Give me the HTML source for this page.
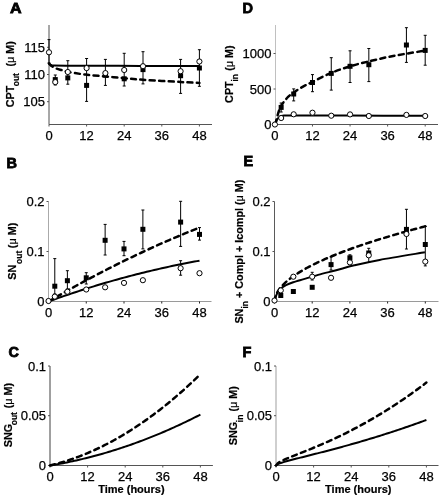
<!DOCTYPE html>
<html><head><meta charset="utf-8"><style>
html,body{margin:0;padding:0;background:#fff;}
body{width:442px;height:498px;overflow:hidden;}
svg{display:block;filter:grayscale(1);}
text{font-family:"Liberation Sans", sans-serif;}
.tk{font-size:13px;fill:#000;stroke:#000;stroke-width:0.25;}
.pl{font-size:14.5px;font-weight:bold;fill:#000;stroke:#000;stroke-width:0.8;}
.yl{font-size:11px;font-weight:bold;fill:#000;stroke:#000;stroke-width:0.2;}
.sub{font-size:8.5px;}
.mu{font-weight:normal;}
.tl{font-size:11px;font-weight:bold;fill:#000;stroke:#000;stroke-width:0.2;}
.sol{fill:none;stroke:#000;stroke-width:2;}
.dsh{fill:none;stroke:#000;stroke-width:2.5;stroke-dasharray:5 4.4;stroke-linecap:round;}
.eb{stroke:#000;stroke-width:1;}
</style></head>
<body>
<svg width="442" height="498" viewBox="0 0 442 498">
<rect width="442" height="498" fill="#fff"/>
<line x1="49.0" y1="25" x2="49.0" y2="124.5" stroke="#515151" stroke-width="1"/>
<line x1="49.0" y1="124.5" x2="212" y2="124.5" stroke="#555555" stroke-width="1"/>
<line x1="47.0" y1="47.3" x2="49.0" y2="47.3" stroke="#555555" stroke-width="1"/>
<text x="45.0" y="51.90" text-anchor="end" class="tk">115</text>
<line x1="47.0" y1="74.5" x2="49.0" y2="74.5" stroke="#555555" stroke-width="1"/>
<text x="45.0" y="79.10" text-anchor="end" class="tk">110</text>
<line x1="47.0" y1="101.7" x2="49.0" y2="101.7" stroke="#555555" stroke-width="1"/>
<text x="45.0" y="106.30" text-anchor="end" class="tk">105</text>
<line x1="49.00" y1="124.5" x2="49.00" y2="126.5" stroke="#555555" stroke-width="1"/>
<text x="49.00" y="140.0" text-anchor="middle" class="tk">0</text>
<line x1="86.60" y1="124.5" x2="86.60" y2="126.5" stroke="#555555" stroke-width="1"/>
<text x="86.60" y="140.0" text-anchor="middle" class="tk">12</text>
<line x1="124.20" y1="124.5" x2="124.20" y2="126.5" stroke="#555555" stroke-width="1"/>
<text x="124.20" y="140.0" text-anchor="middle" class="tk">24</text>
<line x1="161.80" y1="124.5" x2="161.80" y2="126.5" stroke="#555555" stroke-width="1"/>
<text x="161.80" y="140.0" text-anchor="middle" class="tk">36</text>
<line x1="199.40" y1="124.5" x2="199.40" y2="126.5" stroke="#555555" stroke-width="1"/>
<text x="199.40" y="140.0" text-anchor="middle" class="tk">48</text>
<line x1="275.5" y1="25" x2="275.5" y2="124.5" stroke="#c0c0c0" stroke-width="1"/>
<line x1="275.5" y1="124.5" x2="438" y2="124.5" stroke="#555555" stroke-width="1"/>
<line x1="273.5" y1="53.5" x2="275.5" y2="53.5" stroke="#555555" stroke-width="1"/>
<text x="271.5" y="58.10" text-anchor="end" class="tk">1000</text>
<line x1="273.5" y1="89" x2="275.5" y2="89" stroke="#555555" stroke-width="1"/>
<text x="271.5" y="93.60" text-anchor="end" class="tk">500</text>
<line x1="273.5" y1="124.5" x2="275.5" y2="124.5" stroke="#555555" stroke-width="1"/>
<text x="271.5" y="129.10" text-anchor="end" class="tk">0</text>
<line x1="274.90" y1="124.5" x2="274.90" y2="126.5" stroke="#555555" stroke-width="1"/>
<text x="274.90" y="140.0" text-anchor="middle" class="tk">0</text>
<line x1="312.47" y1="124.5" x2="312.47" y2="126.5" stroke="#555555" stroke-width="1"/>
<text x="312.47" y="140.0" text-anchor="middle" class="tk">12</text>
<line x1="350.05" y1="124.5" x2="350.05" y2="126.5" stroke="#555555" stroke-width="1"/>
<text x="350.05" y="140.0" text-anchor="middle" class="tk">24</text>
<line x1="387.62" y1="124.5" x2="387.62" y2="126.5" stroke="#555555" stroke-width="1"/>
<text x="387.62" y="140.0" text-anchor="middle" class="tk">36</text>
<line x1="425.20" y1="124.5" x2="425.20" y2="126.5" stroke="#555555" stroke-width="1"/>
<text x="425.20" y="140.0" text-anchor="middle" class="tk">48</text>
<line x1="48.5" y1="201.5" x2="48.5" y2="301.5" stroke="#aaaaaa" stroke-width="1"/>
<line x1="48.5" y1="301.5" x2="211.5" y2="301.5" stroke="#9a9a9a" stroke-width="1"/>
<line x1="46.5" y1="201.5" x2="48.5" y2="201.5" stroke="#555555" stroke-width="1"/>
<text x="44.5" y="206.10" text-anchor="end" class="tk">0.2</text>
<line x1="46.5" y1="251.5" x2="48.5" y2="251.5" stroke="#555555" stroke-width="1"/>
<text x="44.5" y="256.10" text-anchor="end" class="tk">0.1</text>
<line x1="46.5" y1="301.5" x2="48.5" y2="301.5" stroke="#555555" stroke-width="1"/>
<text x="44.5" y="306.10" text-anchor="end" class="tk">0</text>
<line x1="48.50" y1="301.5" x2="48.50" y2="303.5" stroke="#222" stroke-width="1"/>
<text x="48.50" y="316.8" text-anchor="middle" class="tk">0</text>
<line x1="86.25" y1="301.5" x2="86.25" y2="303.5" stroke="#222" stroke-width="1"/>
<text x="86.25" y="316.8" text-anchor="middle" class="tk">12</text>
<line x1="124.00" y1="301.5" x2="124.00" y2="303.5" stroke="#222" stroke-width="1"/>
<text x="124.00" y="316.8" text-anchor="middle" class="tk">24</text>
<line x1="161.75" y1="301.5" x2="161.75" y2="303.5" stroke="#222" stroke-width="1"/>
<text x="161.75" y="316.8" text-anchor="middle" class="tk">36</text>
<line x1="199.50" y1="301.5" x2="199.50" y2="303.5" stroke="#222" stroke-width="1"/>
<text x="199.50" y="316.8" text-anchor="middle" class="tk">48</text>
<line x1="274.5" y1="201.5" x2="274.5" y2="301.5" stroke="#5a5a5a" stroke-width="1"/>
<line x1="274.5" y1="301.5" x2="438.5" y2="301.5" stroke="#9a9a9a" stroke-width="1"/>
<line x1="272.5" y1="201.5" x2="274.5" y2="201.5" stroke="#555555" stroke-width="1"/>
<text x="270.5" y="206.10" text-anchor="end" class="tk">0.2</text>
<line x1="272.5" y1="251.5" x2="274.5" y2="251.5" stroke="#555555" stroke-width="1"/>
<text x="270.5" y="256.10" text-anchor="end" class="tk">0.1</text>
<line x1="272.5" y1="301.5" x2="274.5" y2="301.5" stroke="#555555" stroke-width="1"/>
<text x="270.5" y="306.10" text-anchor="end" class="tk">0</text>
<line x1="274.50" y1="301.5" x2="274.50" y2="303.5" stroke="#222" stroke-width="1"/>
<text x="274.50" y="316.8" text-anchor="middle" class="tk">0</text>
<line x1="312.20" y1="301.5" x2="312.20" y2="303.5" stroke="#222" stroke-width="1"/>
<text x="312.20" y="316.8" text-anchor="middle" class="tk">12</text>
<line x1="349.90" y1="301.5" x2="349.90" y2="303.5" stroke="#222" stroke-width="1"/>
<text x="349.90" y="316.8" text-anchor="middle" class="tk">24</text>
<line x1="387.60" y1="301.5" x2="387.60" y2="303.5" stroke="#222" stroke-width="1"/>
<text x="387.60" y="316.8" text-anchor="middle" class="tk">36</text>
<line x1="425.30" y1="301.5" x2="425.30" y2="303.5" stroke="#222" stroke-width="1"/>
<text x="425.30" y="316.8" text-anchor="middle" class="tk">48</text>
<line x1="50.0" y1="366" x2="50.0" y2="465.5" stroke="#414141" stroke-width="1"/>
<line x1="50.0" y1="465.5" x2="212.9" y2="465.5" stroke="#555555" stroke-width="1"/>
<line x1="48.0" y1="366" x2="50.0" y2="366" stroke="#555555" stroke-width="1"/>
<text x="46.0" y="370.60" text-anchor="end" class="tk">0.1</text>
<line x1="48.0" y1="415.7" x2="50.0" y2="415.7" stroke="#555555" stroke-width="1"/>
<text x="46.0" y="420.30" text-anchor="end" class="tk">0.05</text>
<line x1="48.0" y1="465.5" x2="50.0" y2="465.5" stroke="#555555" stroke-width="1"/>
<text x="46.0" y="470.10" text-anchor="end" class="tk">0</text>
<line x1="50.00" y1="465.5" x2="50.00" y2="467.5" stroke="#555555" stroke-width="1"/>
<text x="50.00" y="481.0" text-anchor="middle" class="tk">0</text>
<line x1="87.60" y1="465.5" x2="87.60" y2="467.5" stroke="#555555" stroke-width="1"/>
<text x="87.60" y="481.0" text-anchor="middle" class="tk">12</text>
<line x1="125.20" y1="465.5" x2="125.20" y2="467.5" stroke="#555555" stroke-width="1"/>
<text x="125.20" y="481.0" text-anchor="middle" class="tk">24</text>
<line x1="162.80" y1="465.5" x2="162.80" y2="467.5" stroke="#555555" stroke-width="1"/>
<text x="162.80" y="481.0" text-anchor="middle" class="tk">36</text>
<line x1="200.40" y1="465.5" x2="200.40" y2="467.5" stroke="#555555" stroke-width="1"/>
<text x="200.40" y="481.0" text-anchor="middle" class="tk">48</text>
<line x1="276.0" y1="366" x2="276.0" y2="465.5" stroke="#9f9f9f" stroke-width="1"/>
<line x1="276.0" y1="465.5" x2="438.5" y2="465.5" stroke="#555555" stroke-width="1"/>
<line x1="274.0" y1="366" x2="276.0" y2="366" stroke="#555555" stroke-width="1"/>
<text x="272.0" y="370.60" text-anchor="end" class="tk">0.1</text>
<line x1="274.0" y1="415.7" x2="276.0" y2="415.7" stroke="#555555" stroke-width="1"/>
<text x="272.0" y="420.30" text-anchor="end" class="tk">0.05</text>
<line x1="274.0" y1="465.5" x2="276.0" y2="465.5" stroke="#555555" stroke-width="1"/>
<text x="272.0" y="470.10" text-anchor="end" class="tk">0</text>
<line x1="276.00" y1="465.5" x2="276.00" y2="467.5" stroke="#555555" stroke-width="1"/>
<text x="276.00" y="481.0" text-anchor="middle" class="tk">0</text>
<line x1="313.60" y1="465.5" x2="313.60" y2="467.5" stroke="#555555" stroke-width="1"/>
<text x="313.60" y="481.0" text-anchor="middle" class="tk">12</text>
<line x1="351.20" y1="465.5" x2="351.20" y2="467.5" stroke="#555555" stroke-width="1"/>
<text x="351.20" y="481.0" text-anchor="middle" class="tk">24</text>
<line x1="388.80" y1="465.5" x2="388.80" y2="467.5" stroke="#555555" stroke-width="1"/>
<text x="388.80" y="481.0" text-anchor="middle" class="tk">36</text>
<line x1="426.40" y1="465.5" x2="426.40" y2="467.5" stroke="#555555" stroke-width="1"/>
<text x="426.40" y="481.0" text-anchor="middle" class="tk">48</text>
<text x="10.1" y="13.2" class="pl" textLength="11.6" lengthAdjust="spacingAndGlyphs">A</text>
<text x="242.6" y="13.2" class="pl">D</text>
<text x="6.4" y="167.6" class="pl">B</text>
<text x="243.5" y="166.4" class="pl">E</text>
<text x="8.5" y="357.2" class="pl">C</text>
<text x="242.6" y="356.8" class="pl">F</text>
<text transform="translate(14.1,107.3) rotate(-90)" class="yl" style="font-size:10.8px">CPT</text>
<text transform="translate(18.8,86.3) rotate(-90)" class="yl" style="font-size:8.5px">out</text>
<text transform="translate(14.0,66.5) rotate(-90)" class="yl" style="font-size:10.8px">(<tspan class="mu">&#956;</tspan> M)</text>
<text transform="translate(232.6,102.9) rotate(-90)" class="yl" style="font-size:10.8px">CPT</text>
<text transform="translate(238,81.6) rotate(-90)" class="yl" style="font-size:8.5px">in</text>
<text transform="translate(232.6,70.8) rotate(-90)" class="yl" style="font-size:10.8px">(<tspan class="mu">&#956;</tspan> M)</text>
<text transform="translate(16.4,279.8) rotate(-90)" class="yl" style="font-size:10.8px">SN</text>
<text transform="translate(22.1,264.0) rotate(-90)" class="yl" style="font-size:8.5px">out</text>
<text transform="translate(16.4,248.2) rotate(-90)" class="yl" style="font-size:10.8px">(<tspan class="mu">&#956;</tspan> M)</text>
<text transform="translate(243.1,323.6) rotate(-90)" class="yl" style="font-size:10.8px">SN</text>
<text transform="translate(248,308.5) rotate(-90)" class="yl" style="font-size:8.5px">in</text>
<text transform="translate(243.1,298.0) rotate(-90)" class="yl" style="font-size:10.8px">+ Compl + Icompl (<tspan class="mu">&#956;</tspan> M)</text>
<text transform="translate(11.8,447.3) rotate(-90)" class="yl" style="font-size:10.8px">SNG</text>
<text transform="translate(17.2,425.3) rotate(-90)" class="yl" style="font-size:8.5px">out</text>
<text transform="translate(11.8,408.3) rotate(-90)" class="yl" style="font-size:10.8px">(<tspan class="mu">&#956;</tspan> M)</text>
<text transform="translate(237.3,445.3) rotate(-90)" class="yl" style="font-size:10.8px">SNG</text>
<text transform="translate(242.7,422.2) rotate(-90)" class="yl" style="font-size:8.5px">in</text>
<text transform="translate(237.3,411.5) rotate(-90)" class="yl" style="font-size:10.8px">(<tspan class="mu">&#956;</tspan> M)</text>
<text x="131.4" y="493" text-anchor="middle" class="tl">Time (hours)</text>
<text x="358.3" y="493" text-anchor="middle" class="tl">Time (hours)</text>
<line x1="49.0" y1="39.6" x2="49.0" y2="63" class="eb"/>
<line x1="47.5" y1="39.6" x2="50.5" y2="39.6" class="eb"/>
<line x1="47.5" y1="63" x2="50.5" y2="63" class="eb"/>
<line x1="55.266666666666666" y1="75" x2="55.266666666666666" y2="85" class="eb"/>
<line x1="53.766666666666666" y1="75" x2="56.766666666666666" y2="75" class="eb"/>
<line x1="53.766666666666666" y1="85" x2="56.766666666666666" y2="85" class="eb"/>
<line x1="67.8" y1="60.7" x2="67.8" y2="84.2" class="eb"/>
<line x1="66.3" y1="60.7" x2="69.3" y2="60.7" class="eb"/>
<line x1="66.3" y1="84.2" x2="69.3" y2="84.2" class="eb"/>
<line x1="86.6" y1="58.5" x2="86.6" y2="101.4" class="eb"/>
<line x1="85.1" y1="58.5" x2="88.1" y2="58.5" class="eb"/>
<line x1="85.1" y1="101.4" x2="88.1" y2="101.4" class="eb"/>
<line x1="105.4" y1="59.4" x2="105.4" y2="85.4" class="eb"/>
<line x1="103.9" y1="59.4" x2="106.9" y2="59.4" class="eb"/>
<line x1="103.9" y1="85.4" x2="106.9" y2="85.4" class="eb"/>
<line x1="124.2" y1="53.3" x2="124.2" y2="86" class="eb"/>
<line x1="122.7" y1="53.3" x2="125.7" y2="53.3" class="eb"/>
<line x1="122.7" y1="86" x2="125.7" y2="86" class="eb"/>
<line x1="143.0" y1="51.7" x2="143.0" y2="83.9" class="eb"/>
<line x1="141.5" y1="51.7" x2="144.5" y2="51.7" class="eb"/>
<line x1="141.5" y1="83.9" x2="144.5" y2="83.9" class="eb"/>
<line x1="180.6" y1="59.4" x2="180.6" y2="93.4" class="eb"/>
<line x1="179.1" y1="59.4" x2="182.1" y2="59.4" class="eb"/>
<line x1="179.1" y1="93.4" x2="182.1" y2="93.4" class="eb"/>
<line x1="199.4" y1="49.7" x2="199.4" y2="86.3" class="eb"/>
<line x1="197.9" y1="49.7" x2="200.9" y2="49.7" class="eb"/>
<line x1="197.9" y1="86.3" x2="200.9" y2="86.3" class="eb"/>
<path d="M49.00,63.60 C49.33,63.83 50.17,64.68 51.00,65.00 C51.83,65.32 49.17,65.38 54.00,65.50 C58.83,65.62 65.67,65.63 80.00,65.70 C94.33,65.77 120.10,65.83 140.00,65.90 C159.90,65.97 189.50,66.07 199.40,66.10" class="sol"/>
<path d="M49.00,63.50 C49.50,63.95 50.75,65.35 52.00,66.20 C53.25,67.05 54.83,67.93 56.50,68.60 C58.17,69.27 60.08,69.65 62.00,70.20 C63.92,70.75 64.10,71.17 68.00,71.90 C71.90,72.63 79.30,73.85 85.40,74.60 C91.50,75.35 98.13,75.80 104.60,76.40 C111.07,77.00 117.77,77.63 124.20,78.20 C130.63,78.77 133.80,79.17 143.20,79.80 C152.60,80.43 171.23,81.48 180.60,82.00 C189.97,82.52 196.27,82.75 199.40,82.90" class="dsh"/>
<rect x="52.77" y="77.10" width="5.0" height="5.0" fill="#000"/>
<rect x="65.30" y="75.40" width="5.0" height="5.0" fill="#000"/>
<rect x="84.10" y="82.90" width="5.0" height="5.0" fill="#000"/>
<rect x="102.90" y="72.50" width="5.0" height="5.0" fill="#000"/>
<rect x="121.70" y="76.30" width="5.0" height="5.0" fill="#000"/>
<rect x="140.50" y="67.10" width="5.0" height="5.0" fill="#000"/>
<rect x="178.10" y="73.20" width="5.0" height="5.0" fill="#000"/>
<rect x="196.90" y="65.50" width="5.0" height="5.0" fill="#000"/>
<circle cx="49.00" cy="52.30" r="2.6" fill="#fff" stroke="#000" stroke-width="1"/>
<circle cx="55.27" cy="82.10" r="2.6" fill="#fff" stroke="#000" stroke-width="1"/>
<circle cx="67.80" cy="72.00" r="2.6" fill="#fff" stroke="#000" stroke-width="1"/>
<circle cx="86.60" cy="68.10" r="2.6" fill="#fff" stroke="#000" stroke-width="1"/>
<circle cx="105.40" cy="73.10" r="2.6" fill="#fff" stroke="#000" stroke-width="1"/>
<circle cx="124.20" cy="70.00" r="2.6" fill="#fff" stroke="#000" stroke-width="1"/>
<circle cx="143.00" cy="66.20" r="2.6" fill="#fff" stroke="#000" stroke-width="1"/>
<circle cx="180.60" cy="71.20" r="2.6" fill="#fff" stroke="#000" stroke-width="1"/>
<circle cx="199.40" cy="61.50" r="2.6" fill="#fff" stroke="#000" stroke-width="1"/>
<line x1="281.16249999999997" y1="103" x2="281.16249999999997" y2="112" class="eb"/>
<line x1="279.66249999999997" y1="103" x2="282.66249999999997" y2="103" class="eb"/>
<line x1="279.66249999999997" y1="112" x2="282.66249999999997" y2="112" class="eb"/>
<line x1="293.6875" y1="88.9" x2="293.6875" y2="100.9" class="eb"/>
<line x1="292.1875" y1="88.9" x2="295.1875" y2="88.9" class="eb"/>
<line x1="292.1875" y1="100.9" x2="295.1875" y2="100.9" class="eb"/>
<line x1="312.47499999999997" y1="74.6" x2="312.47499999999997" y2="91.7" class="eb"/>
<line x1="310.97499999999997" y1="74.6" x2="313.97499999999997" y2="74.6" class="eb"/>
<line x1="310.97499999999997" y1="91.7" x2="313.97499999999997" y2="91.7" class="eb"/>
<line x1="331.2625" y1="57.7" x2="331.2625" y2="90.1" class="eb"/>
<line x1="329.7625" y1="57.7" x2="332.7625" y2="57.7" class="eb"/>
<line x1="329.7625" y1="90.1" x2="332.7625" y2="90.1" class="eb"/>
<line x1="350.04999999999995" y1="50.8" x2="350.04999999999995" y2="82.5" class="eb"/>
<line x1="348.54999999999995" y1="50.8" x2="351.54999999999995" y2="50.8" class="eb"/>
<line x1="348.54999999999995" y1="82.5" x2="351.54999999999995" y2="82.5" class="eb"/>
<line x1="368.8375" y1="48.5" x2="368.8375" y2="81.6" class="eb"/>
<line x1="367.3375" y1="48.5" x2="370.3375" y2="48.5" class="eb"/>
<line x1="367.3375" y1="81.6" x2="370.3375" y2="81.6" class="eb"/>
<line x1="406.4125" y1="27.7" x2="406.4125" y2="62.4" class="eb"/>
<line x1="404.9125" y1="27.7" x2="407.9125" y2="27.7" class="eb"/>
<line x1="404.9125" y1="62.4" x2="407.9125" y2="62.4" class="eb"/>
<line x1="425.2" y1="35.3" x2="425.2" y2="65.2" class="eb"/>
<line x1="423.7" y1="35.3" x2="426.7" y2="35.3" class="eb"/>
<line x1="423.7" y1="65.2" x2="426.7" y2="65.2" class="eb"/>
<path d="M275.30,124.50 C275.58,123.67 276.30,120.75 277.00,119.50 C277.70,118.25 278.35,117.65 279.50,117.00 C280.65,116.35 280.48,115.87 283.90,115.60 C287.32,115.33 288.98,115.40 300.00,115.40 C311.02,115.40 329.17,115.53 350.00,115.60 C370.83,115.67 412.50,115.77 425.00,115.80" class="sol"/>
<path d="M275.30,124.50 C275.75,122.75 277.05,117.05 278.00,114.00 C278.95,110.95 279.50,108.87 281.00,106.20 C282.50,103.53 284.87,100.30 287.00,98.00 C289.13,95.70 291.13,94.30 293.80,92.40 C296.47,90.50 299.92,88.33 303.00,86.60 C306.08,84.87 307.57,84.30 312.30,82.00 C317.03,79.70 325.05,75.43 331.40,72.80 C337.75,70.17 344.08,68.12 350.40,66.20 C356.72,64.28 363.03,62.83 369.30,61.30 C375.57,59.77 381.77,58.28 388.00,57.00 C394.23,55.72 400.47,54.67 406.70,53.60 C412.93,52.53 422.28,51.10 425.40,50.60" class="dsh"/>
<rect x="278.66" y="104.90" width="5.0" height="5.0" fill="#000"/>
<rect x="291.19" y="91.50" width="5.0" height="5.0" fill="#000"/>
<rect x="309.97" y="80.00" width="5.0" height="5.0" fill="#000"/>
<rect x="328.76" y="70.90" width="5.0" height="5.0" fill="#000"/>
<rect x="347.55" y="63.80" width="5.0" height="5.0" fill="#000"/>
<rect x="366.34" y="62.20" width="5.0" height="5.0" fill="#000"/>
<rect x="403.91" y="42.50" width="5.0" height="5.0" fill="#000"/>
<rect x="422.70" y="47.90" width="5.0" height="5.0" fill="#000"/>
<circle cx="274.90" cy="124.50" r="2.6" fill="#fff" stroke="#000" stroke-width="1"/>
<circle cx="281.16" cy="118.00" r="2.6" fill="#fff" stroke="#000" stroke-width="1"/>
<circle cx="293.69" cy="114.30" r="2.6" fill="#fff" stroke="#000" stroke-width="1"/>
<circle cx="312.47" cy="112.70" r="2.6" fill="#fff" stroke="#000" stroke-width="1"/>
<circle cx="331.26" cy="115.70" r="2.6" fill="#fff" stroke="#000" stroke-width="1"/>
<circle cx="350.05" cy="114.40" r="2.6" fill="#fff" stroke="#000" stroke-width="1"/>
<circle cx="368.84" cy="116.00" r="2.6" fill="#fff" stroke="#000" stroke-width="1"/>
<circle cx="406.41" cy="114.90" r="2.6" fill="#fff" stroke="#000" stroke-width="1"/>
<circle cx="425.20" cy="116.00" r="2.6" fill="#fff" stroke="#000" stroke-width="1"/>
<line x1="54.791666666666664" y1="258.6" x2="54.791666666666664" y2="294" class="eb"/>
<line x1="53.291666666666664" y1="258.6" x2="56.291666666666664" y2="258.6" class="eb"/>
<line x1="53.291666666666664" y1="294" x2="56.291666666666664" y2="294" class="eb"/>
<line x1="67.375" y1="270.7" x2="67.375" y2="289" class="eb"/>
<line x1="65.875" y1="270.7" x2="68.875" y2="270.7" class="eb"/>
<line x1="65.875" y1="289" x2="68.875" y2="289" class="eb"/>
<line x1="86.25" y1="272.7" x2="86.25" y2="284" class="eb"/>
<line x1="84.75" y1="272.7" x2="87.75" y2="272.7" class="eb"/>
<line x1="84.75" y1="284" x2="87.75" y2="284" class="eb"/>
<line x1="105.125" y1="224.4" x2="105.125" y2="255" class="eb"/>
<line x1="103.625" y1="224.4" x2="106.625" y2="224.4" class="eb"/>
<line x1="103.625" y1="255" x2="106.625" y2="255" class="eb"/>
<line x1="124.0" y1="241.4" x2="124.0" y2="255.7" class="eb"/>
<line x1="122.5" y1="241.4" x2="125.5" y2="241.4" class="eb"/>
<line x1="122.5" y1="255.7" x2="125.5" y2="255.7" class="eb"/>
<line x1="142.875" y1="210" x2="142.875" y2="248.9" class="eb"/>
<line x1="141.375" y1="210" x2="144.375" y2="210" class="eb"/>
<line x1="141.375" y1="248.9" x2="144.375" y2="248.9" class="eb"/>
<line x1="180.625" y1="201.3" x2="180.625" y2="246.4" class="eb"/>
<line x1="179.125" y1="201.3" x2="182.125" y2="201.3" class="eb"/>
<line x1="179.125" y1="246.4" x2="182.125" y2="246.4" class="eb"/>
<line x1="199.5" y1="227.6" x2="199.5" y2="240.1" class="eb"/>
<line x1="198.0" y1="227.6" x2="201.0" y2="227.6" class="eb"/>
<line x1="198.0" y1="240.1" x2="201.0" y2="240.1" class="eb"/>
<line x1="180.625" y1="260.7" x2="180.625" y2="275.2" class="eb"/>
<line x1="179.125" y1="260.7" x2="182.125" y2="260.7" class="eb"/>
<line x1="179.125" y1="275.2" x2="182.125" y2="275.2" class="eb"/>
<path d="M48.50,301.50 L51.02,300.59 L53.53,299.69 L56.05,298.80 L58.57,297.92 L61.08,297.04 L63.60,296.17 L66.12,295.31 L68.63,294.45 L71.15,293.61 L73.67,292.77 L76.18,291.94 L78.70,291.12 L81.22,290.30 L83.73,289.49 L86.25,288.69 L88.77,287.90 L91.28,287.12 L93.80,286.34 L96.32,285.57 L98.83,284.81 L101.35,284.06 L103.87,283.31 L106.38,282.57 L108.90,281.84 L111.42,281.12 L113.93,280.41 L116.45,279.70 L118.97,279.00 L121.48,278.31 L124.00,277.62 L126.52,276.95 L129.03,276.28 L131.55,275.62 L134.07,274.96 L136.58,274.32 L139.10,273.68 L141.62,273.05 L144.13,272.43 L146.65,271.81 L149.17,271.21 L151.68,270.61 L154.20,270.02 L156.72,269.43 L159.23,268.86 L161.75,268.29 L164.27,267.73 L166.78,267.18 L169.30,266.63 L171.82,266.09 L174.33,265.56 L176.85,265.04 L179.37,264.53 L181.88,264.02 L184.40,263.52 L186.92,263.03 L189.43,262.55 L191.95,262.07 L194.47,261.60 L196.98,261.14 L199.50,260.69" class="sol"/>
<path d="M48.50,301.50 L51.02,300.03 L53.53,298.57 L56.05,297.12 L58.57,295.67 L61.08,294.24 L63.60,292.81 L66.12,291.39 L68.63,289.97 L71.15,288.57 L73.67,287.17 L76.18,285.78 L78.70,284.40 L81.22,283.03 L83.73,281.67 L86.25,280.31 L88.77,278.96 L91.28,277.62 L93.80,276.29 L96.32,274.97 L98.83,273.65 L101.35,272.34 L103.87,271.04 L106.38,269.75 L108.90,268.46 L111.42,267.19 L113.93,265.92 L116.45,264.66 L118.97,263.41 L121.48,262.16 L124.00,260.93 L126.52,259.70 L129.03,258.48 L131.55,257.27 L134.07,256.06 L136.58,254.87 L139.10,253.68 L141.62,252.50 L144.13,251.33 L146.65,250.16 L149.17,249.01 L151.68,247.86 L154.20,246.72 L156.72,245.59 L159.23,244.47 L161.75,243.35 L164.27,242.24 L166.78,241.14 L169.30,240.05 L171.82,238.97 L174.33,237.89 L176.85,236.82 L179.37,235.77 L181.88,234.71 L184.40,233.67 L186.92,232.63 L189.43,231.61 L191.95,230.59 L194.47,229.58 L196.98,228.57 L199.50,227.58" class="dsh"/>
<rect x="52.29" y="283.70" width="5.0" height="5.0" fill="#000"/>
<rect x="64.88" y="278.20" width="5.0" height="5.0" fill="#000"/>
<rect x="83.75" y="275.30" width="5.0" height="5.0" fill="#000"/>
<rect x="102.62" y="237.80" width="5.0" height="5.0" fill="#000"/>
<rect x="121.50" y="246.40" width="5.0" height="5.0" fill="#000"/>
<rect x="140.38" y="226.80" width="5.0" height="5.0" fill="#000"/>
<rect x="178.12" y="219.60" width="5.0" height="5.0" fill="#000"/>
<rect x="197.00" y="231.90" width="5.0" height="5.0" fill="#000"/>
<circle cx="48.50" cy="301.00" r="2.6" fill="#fff" stroke="#000" stroke-width="1"/>
<circle cx="54.79" cy="296.60" r="2.6" fill="#fff" stroke="#000" stroke-width="1"/>
<circle cx="67.38" cy="291.70" r="2.6" fill="#fff" stroke="#000" stroke-width="1"/>
<circle cx="86.25" cy="289.50" r="2.6" fill="#fff" stroke="#000" stroke-width="1"/>
<circle cx="105.12" cy="287.30" r="2.6" fill="#fff" stroke="#000" stroke-width="1"/>
<circle cx="124.00" cy="282.90" r="2.6" fill="#fff" stroke="#000" stroke-width="1"/>
<circle cx="142.88" cy="280.20" r="2.6" fill="#fff" stroke="#000" stroke-width="1"/>
<circle cx="180.62" cy="268.20" r="2.6" fill="#fff" stroke="#000" stroke-width="1"/>
<circle cx="199.50" cy="273.20" r="2.6" fill="#fff" stroke="#000" stroke-width="1"/>
<line x1="312.2" y1="272.3" x2="312.2" y2="280" class="eb"/>
<line x1="310.7" y1="272.3" x2="313.7" y2="272.3" class="eb"/>
<line x1="310.7" y1="280" x2="313.7" y2="280" class="eb"/>
<line x1="331.05" y1="256.8" x2="331.05" y2="270" class="eb"/>
<line x1="329.55" y1="256.8" x2="332.55" y2="256.8" class="eb"/>
<line x1="329.55" y1="270" x2="332.55" y2="270" class="eb"/>
<line x1="349.9" y1="254.8" x2="349.9" y2="262" class="eb"/>
<line x1="348.4" y1="254.8" x2="351.4" y2="254.8" class="eb"/>
<line x1="348.4" y1="262" x2="351.4" y2="262" class="eb"/>
<line x1="368.75" y1="248.3" x2="368.75" y2="262.4" class="eb"/>
<line x1="367.25" y1="248.3" x2="370.25" y2="248.3" class="eb"/>
<line x1="367.25" y1="262.4" x2="370.25" y2="262.4" class="eb"/>
<line x1="406.45000000000005" y1="209.3" x2="406.45000000000005" y2="249" class="eb"/>
<line x1="404.95000000000005" y1="209.3" x2="407.95000000000005" y2="209.3" class="eb"/>
<line x1="404.95000000000005" y1="249" x2="407.95000000000005" y2="249" class="eb"/>
<line x1="425.3" y1="226.4" x2="425.3" y2="265.9" class="eb"/>
<line x1="423.8" y1="226.4" x2="426.8" y2="226.4" class="eb"/>
<line x1="423.8" y1="265.9" x2="426.8" y2="265.9" class="eb"/>
<path d="M274.50,301.50 C274.67,300.83 275.00,298.95 275.50,297.50 C276.00,296.05 276.65,294.25 277.50,292.80 C278.35,291.35 279.18,290.07 280.60,288.80 C282.02,287.53 283.90,286.30 286.00,285.20 C288.10,284.10 290.87,283.02 293.20,282.20 C295.53,281.38 295.85,281.52 300.00,280.30 C304.15,279.08 312.07,276.58 318.10,274.90 C324.13,273.22 330.17,271.80 336.20,270.20 C342.23,268.60 347.07,267.02 354.30,265.30 C361.53,263.58 367.83,262.07 379.60,259.90 C391.37,257.73 417.35,253.57 424.90,252.30" class="sol"/>
<path d="M274.50,301.50 L275.76,295.38 L277.01,292.70 L278.27,290.62 L279.53,288.85 L280.78,287.28 L282.04,285.85 L283.30,284.54 L284.55,283.31 L285.81,282.15 L287.07,281.05 L288.32,280.00 L289.58,279.00 L290.84,278.04 L292.09,277.11 L293.35,276.21 L294.61,275.34 L295.86,274.50 L297.12,273.67 L298.38,272.88 L299.63,272.10 L300.89,271.33 L302.15,270.59 L303.40,269.86 L304.66,269.15 L305.92,268.45 L307.17,267.76 L308.43,267.09 L309.69,266.43 L310.94,265.77 L312.20,265.13 L313.46,264.50 L314.71,263.88 L315.97,263.27 L317.23,262.67 L318.48,262.08 L319.74,261.49 L321.00,260.91 L322.25,260.34 L323.51,259.78 L324.77,259.22 L326.02,258.67 L327.28,258.12 L328.54,257.58 L329.79,257.05 L331.05,256.53 L332.31,256.01 L333.56,255.49 L334.82,254.98 L336.08,254.47 L337.33,253.97 L338.59,253.48 L339.85,252.99 L341.10,252.50 L342.36,252.02 L343.62,251.54 L344.87,251.07 L346.13,250.60 L347.39,250.13 L348.64,249.67 L349.90,249.21 L351.16,248.75 L352.41,248.30 L353.67,247.85 L354.93,247.41 L356.18,246.97 L357.44,246.53 L358.70,246.10 L359.95,245.66 L361.21,245.24 L362.47,244.81 L363.72,244.39 L364.98,243.97 L366.24,243.55 L367.49,243.13 L368.75,242.72 L370.01,242.31 L371.26,241.91 L372.52,241.50 L373.78,241.10 L375.03,240.70 L376.29,240.30 L377.55,239.91 L378.80,239.52 L380.06,239.13 L381.32,238.74 L382.57,238.35 L383.83,237.97 L385.09,237.59 L386.34,237.21 L387.60,236.83 L388.86,236.46 L390.11,236.08 L391.37,235.71 L392.63,235.34 L393.88,234.97 L395.14,234.61 L396.40,234.24 L397.65,233.88 L398.91,233.52 L400.17,233.16 L401.42,232.80 L402.68,232.45 L403.94,232.09 L405.19,231.74 L406.45,231.39 L407.71,231.04 L408.96,230.69 L410.22,230.35 L411.48,230.00 L412.73,229.66 L413.99,229.32 L415.25,228.98 L416.50,228.64 L417.76,228.30 L419.02,227.97 L420.27,227.63 L421.53,227.30 L422.79,226.97 L424.04,226.64 L425.30,226.31" class="dsh"/>
<rect x="278.28" y="293.00" width="5.0" height="5.0" fill="#000"/>
<rect x="290.85" y="289.00" width="5.0" height="5.0" fill="#000"/>
<rect x="309.70" y="284.80" width="5.0" height="5.0" fill="#000"/>
<rect x="328.55" y="262.10" width="5.0" height="5.0" fill="#000"/>
<rect x="347.40" y="255.30" width="5.0" height="5.0" fill="#000"/>
<rect x="366.25" y="250.50" width="5.0" height="5.0" fill="#000"/>
<rect x="403.95" y="226.90" width="5.0" height="5.0" fill="#000"/>
<rect x="422.80" y="242.00" width="5.0" height="5.0" fill="#000"/>
<circle cx="274.50" cy="300.50" r="2.6" fill="#fff" stroke="#000" stroke-width="1"/>
<circle cx="280.78" cy="290.40" r="2.6" fill="#fff" stroke="#000" stroke-width="1"/>
<circle cx="293.35" cy="276.70" r="2.6" fill="#fff" stroke="#000" stroke-width="1"/>
<circle cx="312.20" cy="276.70" r="2.6" fill="#fff" stroke="#000" stroke-width="1"/>
<circle cx="331.05" cy="277.80" r="2.6" fill="#fff" stroke="#000" stroke-width="1"/>
<circle cx="349.90" cy="262.40" r="2.6" fill="#fff" stroke="#000" stroke-width="1"/>
<circle cx="368.75" cy="255.30" r="2.6" fill="#fff" stroke="#000" stroke-width="1"/>
<circle cx="406.45" cy="234.00" r="2.6" fill="#fff" stroke="#000" stroke-width="1"/>
<circle cx="425.30" cy="261.60" r="2.6" fill="#fff" stroke="#000" stroke-width="1"/>
<path d="M50.00,465.50 L51.88,465.19 L53.76,464.87 L55.64,464.54 L57.52,464.21 L59.40,463.86 L61.28,463.51 L63.16,463.15 L65.04,462.78 L66.92,462.41 L68.80,462.02 L70.68,461.63 L72.56,461.23 L74.44,460.82 L76.32,460.40 L78.20,459.97 L80.08,459.54 L81.96,459.10 L83.84,458.65 L85.72,458.19 L87.60,457.72 L89.48,457.24 L91.36,456.76 L93.24,456.27 L95.12,455.77 L97.00,455.26 L98.88,454.74 L100.76,454.22 L102.64,453.68 L104.52,453.14 L106.40,452.59 L108.28,452.04 L110.16,451.47 L112.04,450.89 L113.92,450.31 L115.80,449.72 L117.68,449.12 L119.56,448.51 L121.44,447.90 L123.32,447.27 L125.20,446.64 L127.08,446.00 L128.96,445.35 L130.84,444.70 L132.72,444.03 L134.60,443.36 L136.48,442.68 L138.36,441.99 L140.24,441.29 L142.12,440.58 L144.00,439.87 L145.88,439.14 L147.76,438.41 L149.64,437.67 L151.52,436.93 L153.40,436.17 L155.28,435.41 L157.16,434.63 L159.04,433.85 L160.92,433.06 L162.80,432.27 L164.68,431.46 L166.56,430.65 L168.44,429.83 L170.32,429.00 L172.20,428.16 L174.08,427.31 L175.96,426.46 L177.84,425.59 L179.72,424.72 L181.60,423.84 L183.48,422.95 L185.36,422.06 L187.24,421.15 L189.12,420.24 L191.00,419.32 L192.88,418.39 L194.76,417.45 L196.64,416.51 L198.52,415.56 L200.40,414.59" class="sol"/>
<path d="M50.00,465.50 L51.88,465.04 L53.76,464.57 L55.64,464.08 L57.52,463.57 L59.40,463.04 L61.28,462.50 L63.16,461.94 L65.04,461.36 L66.92,460.76 L68.80,460.15 L70.68,459.52 L72.56,458.87 L74.44,458.21 L76.32,457.53 L78.20,456.83 L80.08,456.11 L81.96,455.38 L83.84,454.62 L85.72,453.86 L87.60,453.07 L89.48,452.27 L91.36,451.45 L93.24,450.61 L95.12,449.75 L97.00,448.88 L98.88,447.99 L100.76,447.09 L102.64,446.16 L104.52,445.22 L106.40,444.26 L108.28,443.29 L110.16,442.29 L112.04,441.28 L113.92,440.25 L115.80,439.21 L117.68,438.15 L119.56,437.07 L121.44,435.97 L123.32,434.85 L125.20,433.72 L127.08,432.57 L128.96,431.41 L130.84,430.22 L132.72,429.02 L134.60,427.80 L136.48,426.57 L138.36,425.32 L140.24,424.05 L142.12,422.76 L144.00,421.45 L145.88,420.13 L147.76,418.79 L149.64,417.43 L151.52,416.06 L153.40,414.67 L155.28,413.26 L157.16,411.84 L159.04,410.39 L160.92,408.93 L162.80,407.45 L164.68,405.96 L166.56,404.45 L168.44,402.92 L170.32,401.37 L172.20,399.81 L174.08,398.22 L175.96,396.63 L177.84,395.01 L179.72,393.38 L181.60,391.73 L183.48,390.06 L185.36,388.37 L187.24,386.67 L189.12,384.95 L191.00,383.21 L192.88,381.46 L194.76,379.69 L196.64,377.90 L198.52,376.09 L200.40,374.27" class="dsh"/>
<path d="M276.00,465.50 L277.88,464.08 L279.76,463.34 L281.64,462.71 L283.52,462.13 L285.40,461.58 L287.28,461.06 L289.16,460.55 L291.04,460.05 L292.92,459.55 L294.80,459.07 L296.68,458.59 L298.56,458.11 L300.44,457.63 L302.32,457.16 L304.20,456.69 L306.08,456.22 L307.96,455.74 L309.84,455.27 L311.72,454.80 L313.60,454.32 L315.48,453.84 L317.36,453.37 L319.24,452.89 L321.12,452.40 L323.00,451.92 L324.88,451.43 L326.76,450.94 L328.64,450.45 L330.52,449.96 L332.40,449.46 L334.28,448.96 L336.16,448.46 L338.04,447.95 L339.92,447.44 L341.80,446.93 L343.68,446.41 L345.56,445.90 L347.44,445.37 L349.32,444.85 L351.20,444.32 L353.08,443.79 L354.96,443.25 L356.84,442.71 L358.72,442.17 L360.60,441.62 L362.48,441.07 L364.36,440.51 L366.24,439.96 L368.12,439.39 L370.00,438.83 L371.88,438.26 L373.76,437.68 L375.64,437.11 L377.52,436.53 L379.40,435.94 L381.28,435.35 L383.16,434.76 L385.04,434.16 L386.92,433.56 L388.80,432.95 L390.68,432.34 L392.56,431.73 L394.44,431.11 L396.32,430.49 L398.20,429.87 L400.08,429.24 L401.96,428.60 L403.84,427.97 L405.72,427.32 L407.60,426.68 L409.48,426.03 L411.36,425.37 L413.24,424.71 L415.12,424.05 L417.00,423.38 L418.88,422.71 L420.76,422.04 L422.64,421.36 L424.52,420.67 L426.40,419.99" class="sol"/>
<path d="M276.00,465.50 L277.88,463.10 L279.76,461.92 L281.64,460.93 L283.52,460.03 L285.40,459.19 L287.28,458.38 L289.16,457.59 L291.04,456.83 L292.92,456.07 L294.80,455.32 L296.68,454.57 L298.56,453.83 L300.44,453.08 L302.32,452.33 L304.20,451.58 L306.08,450.83 L307.96,450.07 L309.84,449.31 L311.72,448.54 L313.60,447.76 L315.48,446.98 L317.36,446.19 L319.24,445.39 L321.12,444.59 L323.00,443.77 L324.88,442.95 L326.76,442.12 L328.64,441.28 L330.52,440.43 L332.40,439.57 L334.28,438.70 L336.16,437.82 L338.04,436.93 L339.92,436.03 L341.80,435.12 L343.68,434.20 L345.56,433.27 L347.44,432.33 L349.32,431.38 L351.20,430.42 L353.08,429.45 L354.96,428.46 L356.84,427.47 L358.72,426.46 L360.60,425.45 L362.48,424.42 L364.36,423.38 L366.24,422.33 L368.12,421.27 L370.00,420.20 L371.88,419.12 L373.76,418.02 L375.64,416.92 L377.52,415.80 L379.40,414.67 L381.28,413.53 L383.16,412.38 L385.04,411.21 L386.92,410.04 L388.80,408.85 L390.68,407.65 L392.56,406.44 L394.44,405.22 L396.32,403.98 L398.20,402.73 L400.08,401.48 L401.96,400.21 L403.84,398.92 L405.72,397.63 L407.60,396.33 L409.48,395.01 L411.36,393.68 L413.24,392.34 L415.12,390.98 L417.00,389.62 L418.88,388.24 L420.76,386.85 L422.64,385.45 L424.52,384.03 L426.40,382.61" class="dsh"/>
</svg>
</body></html>
